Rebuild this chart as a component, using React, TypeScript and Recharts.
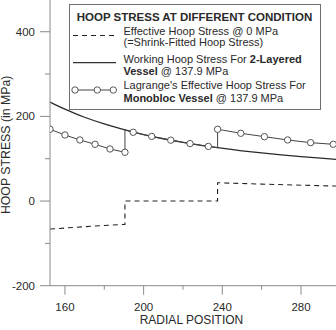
import React from 'react';
import { ComposedChart, Line, XAxis, YAxis, Legend } from 'recharts';

// ---- tick values ----
const radialTicks = [160, 180, 200, 220, 240, 260, 280];
const radialMajor = [160, 200, 240, 280];
const stressTicks = [-200, -100, 0, 100, 200, 300, 400];
const stressMajor = [-200, 0, 200, 400];

// ---- Effective hoop stress @ 0 MPa (shrink-fitted) ----
const shrinkR = [152.4, 170, 190.5, 190.5, 237.6, 237.6, 260, 280, 297.8];
const shrinkS = [-66.2, -60.5, -55.1, 0, 0, 43.3, 40.0, 37.5, 35.5];

// ---- Working hoop stress, 2-layered vessel @ 137.9 MPa ----
const workingR = [152.4, 155, 160, 165, 170, 180, 190.5, 200, 210, 220, 230, 237.6, 250, 260, 270, 280, 290, 297.8];
const workingS = [234.0, 227.9, 217.0, 207.1, 198.0, 182.1, 168.0, 157.1, 147.2, 138.6, 131.1, 126.0, 118.7, 113.6, 109.0, 104.9, 101.2, 98.6];

// ---- Lagrange's effective hoop stress, monobloc vessel @ 137.9 MPa ----
const monoR = [152.4, 160.0, 167.6, 175.3, 182.9, 190.5, 190.5, 194.7, 204.1, 213.8, 223.6, 232.9, 237.6, 237.6, 249.4, 261.4, 273.2, 284.9, 296.4, 297.8];
const monoS = [169.6, 156.1, 144.3, 134.1, 123.0, 115.2, 168.0, 162.5, 152.8, 143.8, 135.8, 129.1, 126.0, 169.6, 160.1, 152.1, 144.3, 137.9, 134.1, 133.6];
const monoMark = [1, 1, 1, 1, 1, 1, 0, 1, 1, 1, 1, 1, 0, 1, 1, 1, 1, 1, 1, 0];

const shrinkData = shrinkR.map((r, i) => ({ r, s: shrinkS[i] }));
const workingData = workingR.map((r, i) => ({ r, s: workingS[i] }));
const monoData = monoR.map((r, i) => ({ r, s: monoS[i], m: monoMark[i] }));

const FONT = '"Liberation Sans", Arial, sans-serif';
const AXIS = '#8a8a8a';
const TEXT = '#2a2a2a';

const YTick = (props: any) => {
  const { x, y, payload } = props;
  const major = stressMajor.includes(payload.value);
  return (
    <g>
      <line x1={x - (major ? 10 : 5)} x2={x} y1={y} y2={y} stroke={AXIS} strokeWidth={1} />
      {major && (
        <text x={x - 15} y={y + 4} textAnchor="end" fontSize={11.5} fill={TEXT} fontFamily={FONT}>
          {payload.value}
        </text>
      )}
    </g>
  );
};

const XTick = (props: any) => {
  const { x, y, payload } = props;
  const major = radialMajor.includes(payload.value);
  return (
    <g>
      <line x1={x} x2={x} y1={y} y2={y + (major ? 9 : 4)} stroke={AXIS} strokeWidth={1} />
      {major && (
        <text x={x} y={y + 25} textAnchor="middle" fontSize={11.5} fill={TEXT} fontFamily={FONT}>
          {payload.value}
        </text>
      )}
    </g>
  );
};

const MonoDot = (props: any) => {
  const { cx, cy, payload, index } = props;
  if (!payload || !payload.m) return <g key={`d${index}`} />;
  return <circle key={`d${index}`} cx={cx} cy={cy} r={3.2} fill="#fff" stroke="#555" strokeWidth={1} />;
};

const YLabel = (props: any) => {
  const vb = props.viewBox || { x: 0, y: 0, width: 50, height: 286 };
  const cy = vb.y + vb.height / 2 + 2;
  return (
    <text x={10.5} y={cy} transform={`rotate(-90, 10.5, ${cy})`} textAnchor="middle" fontSize={12.3} fill={TEXT} fontFamily={FONT}>
      HOOP STRESS (in MPa)
    </text>
  );
};

const XLabel = (props: any) => {
  const vb = props.viewBox || { x: 50, y: 286, width: 286, height: 44 };
  const cx = vb.x + vb.width / 2 - 1.5;
  return (
    <text x={cx} y={324} textAnchor="middle" fontSize={12} fill={TEXT} fontFamily={FONT}>
      RADIAL POSITION
    </text>
  );
};

const LegendBox = () => (
  <svg width={252} height={106} style={{ display: 'block' }}>
    <rect x={0.5} y={0.5} width={251} height={105} fill="#fff" stroke="#6f6f6f" strokeWidth={1} />
    <text x={125.5} y={16.7} textAnchor="middle" fontSize={11.5} fontWeight="bold" fill={TEXT} fontFamily={FONT}>
      HOOP STRESS AT DIFFERENT CONDITION
    </text>
    <line x1={4} x2={46} y1={31.5} y2={31.5} stroke="#222" strokeWidth={1} strokeDasharray="5 4" />
    <line x1={4} x2={47} y1={58.7} y2={58.7} stroke="#333" strokeWidth={1.3} />
    <line x1={6} x2={44.3} y1={86} y2={86} stroke="#444" strokeWidth={1} />
    <circle cx={6} cy={86} r={3.2} fill="#fff" stroke="#555" strokeWidth={1} />
    <circle cx={28.3} cy={86} r={3.2} fill="#fff" stroke="#555" strokeWidth={1} />
    <circle cx={44.3} cy={86} r={3.2} fill="#fff" stroke="#555" strokeWidth={1} />
    <g fontSize={11} fill={TEXT} fontFamily={FONT}>
      <text x={54.5} y={31}>Effective Hoop Stress @ 0 MPa</text>
      <text x={54.5} y={42.3}>(=Shrink-Fitted Hoop Stress)</text>
      <text x={54.5} y={59.3}>
        Working Hoop Stress For <tspan fontWeight="bold">2-Layered</tspan>
      </text>
      <text x={54.5} y={71}>
        <tspan fontWeight="bold">Vessel</tspan> @ 137.9 MPa
      </text>
      <text x={54.5} y={84.5}>Lagrange's Effective Hoop Stress For</text>
      <text x={54.5} y={98}>
        <tspan fontWeight="bold">Monobloc Vessel</tspan> @ 137.9 MPa
      </text>
    </g>
  </svg>
);

export default function App() {
  return (
    <div style={{ position: 'absolute', left: 0, top: 0, width: 336, height: 330, background: '#fff' }}>
      <ComposedChart width={336} height={330} margin={{ top: 0, right: 0, bottom: 0, left: 0 }}>
        <XAxis
          dataKey="r"
          type="number"
          domain={[152.4, 297.8]}
          allowDataOverflow
          ticks={radialTicks}
          interval={0}
          tick={<XTick />}
          tickLine={false}
          tickSize={0}
          tickMargin={0}
          height={44.3}
          stroke={AXIS}
          label={{ content: (p: any) => <XLabel {...p} /> }}
        />
        <YAxis
          dataKey="s"
          type="number"
          domain={[-200, 475]}
          allowDataOverflow
          ticks={stressTicks}
          interval={0}
          tick={<YTick />}
          tickLine={false}
          tickSize={0}
          tickMargin={0}
          width={50}
          stroke={AXIS}
          label={{ content: (p: any) => <YLabel {...p} /> }}
        />
        <Legend
          layout="vertical"
          align="center"
          verticalAlign="middle"
          content={() => <LegendBox />}
          wrapperStyle={{ left: 69, top: 4, width: 252, height: 106 }}
        />
        <Line data={shrinkData} dataKey="s" type="linear" stroke="#222" strokeWidth={1.1} strokeDasharray="5 4" dot={false} activeDot={false} isAnimationActive={false} />
        <Line data={workingData} dataKey="s" type="monotone" stroke="#2a2a2a" strokeWidth={1.3} dot={false} activeDot={false} isAnimationActive={false} />
        <Line data={monoData} dataKey="s" type="linear" stroke="#444" strokeWidth={1} dot={(p: any) => <MonoDot {...p} />} activeDot={false} isAnimationActive={false} />
      </ComposedChart>
    </div>
  );
}
